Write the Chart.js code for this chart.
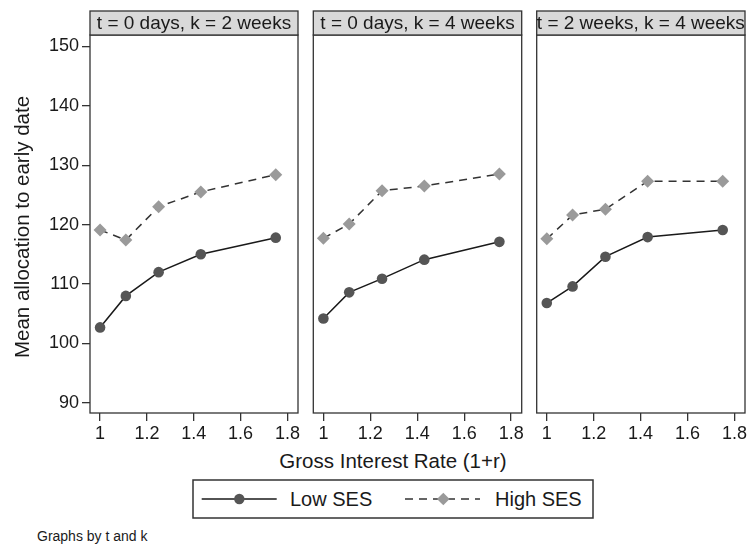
<!DOCTYPE html>
<html>
<head>
<meta charset="utf-8">
<script src="https://cdn.jsdelivr.net/npm/chart.js@4"></script>
<style>
body { margin: 0; background: #fff; font-family: "Liberation Sans", Arial, sans-serif; color: #1a1a1a; }
#wrap { position: relative; width: 747px; height: 547px; overflow: hidden; }
#wrap canvas { position: absolute; top: 0; }
.txt { position: absolute; white-space: nowrap; }
#ytitle { left: -128px; top: 215px; width: 300px; line-height: 24px; text-align: center; font-size: 20.5px; transform: rotate(-90deg); }
#xtitle { left: 193px; top: 449px; width: 400px; text-align: center; font-size: 20.5px; line-height: 24px; }
#note { left: 37px; top: 527px; font-size: 14px; line-height: 18px; }
#legend { position: absolute; left: 192px; top: 479px; }
</style>
</head>
<body>
<div id="wrap">
  <canvas id="p1" width="310" height="445" style="left:0px"></canvas>
  <canvas id="p2" width="232" height="445" style="left:300px"></canvas>
  <canvas id="p3" width="222" height="445" style="left:525px"></canvas>
  <div class="txt" id="ytitle">Mean allocation to early date</div>
  <div class="txt" id="xtitle">Gross Interest Rate (1+r)</div>
  <svg id="legend" width="403" height="41">
    <rect x="1" y="1" width="400" height="38" fill="#fff" stroke="#333" stroke-width="1.5"/>
    <line x1="9.7" y1="20" x2="84.7" y2="20" stroke="#1a1a1a" stroke-width="1.5"/>
    <circle cx="47.3" cy="20" r="5.2" fill="#555"/>
    <text x="98" y="27" font-size="20" fill="#1a1a1a" font-family="Liberation Sans, Arial, sans-serif">Low SES</text>
    <line x1="213" y1="20" x2="288" y2="20" stroke="#333" stroke-width="1.5" stroke-dasharray="8,6"/>
    <polygon points="251.3,13.7 257.6,20 251.3,26.3 245,20" fill="#9a9a9a"/>
    <text x="303" y="27" font-size="20" fill="#1a1a1a" font-family="Liberation Sans, Arial, sans-serif">High SES</text>
  </svg>
  <div class="txt" id="note">Graphs by t and k</div>
</div>
<script>
const rates = [1, 1.11, 1.25, 1.43, 1.75];
const panelTitles = ["t = 0 days, k = 2 weeks", "t = 0 days, k = 4 weeks", "t = 2 weeks, k = 4 weeks"];
const lowSES1 = [102.7, 108.0, 112.0, 115.0, 117.8];
const highSES1 = [119.1, 117.4, 123.0, 125.5, 128.4];
const lowSES2 = [104.2, 108.6, 110.9, 114.1, 117.1];
const highSES2 = [117.7, 120.1, 125.7, 126.5, 128.5];
const lowSES3 = [106.8, 109.6, 114.6, 117.9, 119.1];
const highSES3 = [117.6, 121.6, 122.6, 127.3, 127.3];
const xTicks = [1, 1.2, 1.4, 1.6, 1.8];
const yTicks = [90, 100, 110, 120, 130, 140, 150];

const FONT = '"Liberation Sans", Arial, sans-serif';
const INK = '#1a1a1a';

// panel frame + grey strip header
const framePlugin = {
    id: 'frame',
    afterDraw(chart, args, opts) {
        const ctx = chart.ctx;
        const a = chart.chartArea;
        ctx.save();
        ctx.lineWidth = 1.3;
        ctx.strokeStyle = '#333';
        ctx.strokeRect(a.left, a.top, a.right - a.left, a.bottom - a.top);
        ctx.fillStyle = '#d9d9d9';
        ctx.fillRect(a.left, 11, a.right - a.left, a.top - 11);
        ctx.strokeRect(a.left, 11, a.right - a.left, a.top - 11);
        ctx.fillStyle = INK;
        ctx.font = '19px ' + FONT;
        ctx.textAlign = 'center';
        ctx.textBaseline = 'middle';
        ctx.fillText(opts.title, (a.left + a.right) / 2, 24);
        ctx.restore();
    }
};

function makePanel(id, title, low, high, showY, padL, padR) {
    new Chart(id, {
        type: 'line',
        data: {
            datasets: [{
                label: 'Low SES',
                data: rates.map((x, i) => ({x: x, y: low[i]})),
                borderColor: INK,
                borderWidth: 1.5,
                pointStyle: 'circle',
                pointRadius: 5.3,
                pointBackgroundColor: '#555',
                pointBorderWidth: 0
            }, {
                label: 'High SES',
                data: rates.map((x, i) => ({x: x, y: high[i]})),
                borderColor: '#333',
                borderWidth: 1.5,
                borderDash: [8, 6],
                pointStyle: 'rectRot',
                pointRadius: 6.5,
                pointBackgroundColor: '#9a9a9a',
                pointBorderWidth: 0
            }]
        },
        options: {
            responsive: false,
            animation: false,
            layout: {autoPadding: false, padding: {left: padL, right: padR, top: 35, bottom: 0}},
            plugins: {
                legend: {display: false},
                tooltip: {enabled: false},
                frame: {title: title}
            },
            scales: {
                x: {
                    type: 'linear',
                    min: 0.957,
                    max: 1.845,
                    afterBuildTicks: s => { s.ticks = xTicks.map(v => ({value: v})); },
                    afterFit: s => { s.height = 32; s.paddingLeft = 0; s.paddingRight = 0; },
                    ticks: {color: INK, font: {family: FONT, size: 18}, padding: 2, maxRotation: 0, autoSkip: false, callback: v => String(v)},
                    grid: {drawOnChartArea: false, drawTicks: true, tickLength: 8, color: '#333', lineWidth: 1.3},
                    border: {display: false}
                },
                y: {
                    display: showY,
                    min: 88.3,
                    max: 151.9,
                    afterBuildTicks: s => { s.ticks = yTicks.map(v => ({value: v})); },
                    afterFit: s => { s.width = showY ? 90 : 0; s.paddingTop = 0; s.paddingBottom = 0; },
                    ticks: {color: INK, font: {family: FONT, size: 18}, padding: 3},
                    grid: {drawOnChartArea: false, drawTicks: true, tickLength: 8, color: '#333', lineWidth: 1.3},
                    border: {display: false}
                }
            }
        },
        plugins: [framePlugin]
    });
}

makePanel('p1', panelTitles[0], lowSES1, highSES1, true, 0, 12);
makePanel('p2', panelTitles[1], lowSES2, highSES2, false, 13.3, 10.3);
makePanel('p3', panelTitles[2], lowSES3, highSES3, false, 11.7, 2);
</script>
</body>
</html>
